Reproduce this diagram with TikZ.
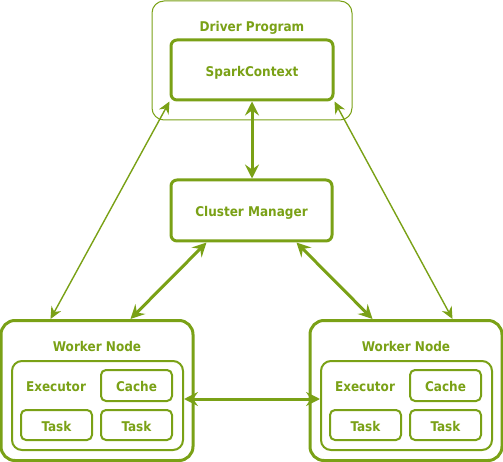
\documentclass[tikz,border=0pt]{standalone}
\usepackage{fontspec}
\setmainfont{DejaVu Sans Condensed}
\usetikzlibrary{arrows.meta,calc}
\definecolor{sg}{RGB}{122,161,22}
\tikzset{
  box/.style={draw=sg, rounded corners=#1, inner sep=0pt, fill=white},
  box/.default=6pt,
  lbl/.style={text=sg, font=\fontsize{13.4}{15}\selectfont\bfseries, inner sep=0pt, text height=12.8pt, text depth=0pt},
  thickarr/.style={draw=sg, line width=3pt, {Stealth[length=14pt,width=14pt,inset=5pt]}-{Stealth[length=14pt,width=14pt,inset=5pt]}},
  thinarr/.style={draw=sg, line width=1.4pt, {Stealth[length=12pt,width=11pt,inset=4pt]}-{Stealth[length=12pt,width=11pt,inset=4pt]}},
}
\begin{document}
\begin{tikzpicture}[x=1pt,y=-1pt]
\useasboundingbox (0,0) rectangle (503,462);
% driver program
\node[box=12pt, line width=1pt, minimum width=200pt, minimum height=119pt] (driver) at (252,60.5) {};
\node[lbl] (drivert) at (252,25) {Driver Program};
\node[box=6pt, line width=3pt, minimum width=162pt, minimum height=60pt, lbl] (spark) at (252,70) {SparkContext};
% cluster manager
\node[box=6pt, line width=3pt, minimum width=161pt, minimum height=61pt, lbl] (cluster) at (251.5,210.5) {Cluster Manager};
% left worker
\node[box=14pt, line width=3pt, minimum width=192pt, minimum height=140pt] (wL) at (97,390.5) {};
\node[lbl] (wLt) at (97,345) {Worker Node};
\node[box=10pt, line width=2pt, minimum width=171pt, minimum height=89pt] (exL) at (97.5,405.5) {};
\node[lbl] (exLt) at (56,385) {Executor};
\node[box=5pt, line width=2pt, minimum width=71pt, minimum height=31pt, lbl] (cacheL) at (136.5,385.5) {Cache};
\node[box=5pt, line width=2pt, minimum width=71pt, minimum height=30pt, lbl] (taskLa) at (56.5,425) {Task};
\node[box=5pt, line width=2pt, minimum width=71pt, minimum height=30pt, lbl] (taskLb) at (136.5,425) {Task};
% right worker
\node[box=14pt, line width=3pt, minimum width=192pt, minimum height=140pt] (wR) at (406,390.5) {};
\node[lbl] (wRt) at (406,345) {Worker Node};
\node[box=10pt, line width=2pt, minimum width=171pt, minimum height=89pt] (exR) at (406.5,405.5) {};
\node[lbl] (exRt) at (365,385) {Executor};
\node[box=5pt, line width=2pt, minimum width=71pt, minimum height=31pt, lbl] (cacheR) at (445.5,385.5) {Cache};
\node[box=5pt, line width=2pt, minimum width=71pt, minimum height=30pt, lbl] (taskRa) at (365.5,425) {Task};
\node[box=5pt, line width=2pt, minimum width=71pt, minimum height=30pt, lbl] (taskRb) at (445.5,425) {Task};
% connectors
\draw[thickarr] (spark.south) -- (spark.south |- cluster.north);
\draw[thickarr] ([xshift=37pt]cluster.south west) -- ([xshift=131pt]wL.north west);
\draw[thickarr] ([xshift=-37pt]cluster.south east) -- ([xshift=-131pt]wR.north east);
\draw[thinarr] (spark.south west) -- ([xshift=51pt]wL.north west);
\draw[thinarr] (spark.south east) -- ([xshift=-51pt]wR.north east);
\draw[thickarr] ([yshift=6.5pt]exL.east) -- ([yshift=6.5pt]exR.west);
\end{tikzpicture}
\end{document}
